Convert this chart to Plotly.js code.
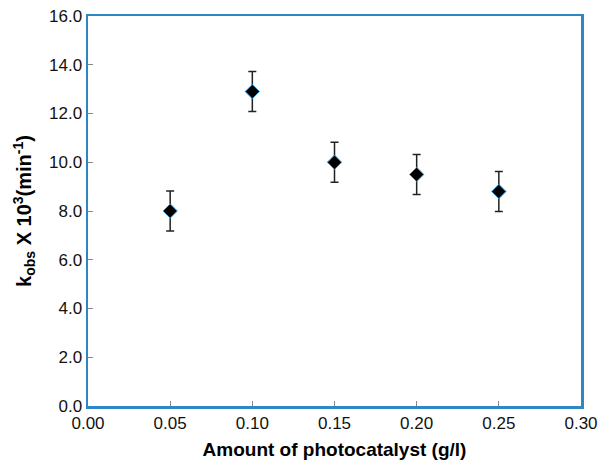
<!DOCTYPE html>
<html>
<head>
<meta charset="utf-8">
<script src="https://cdn.plot.ly/plotly-3.0.1.min.js"></script>
<style>html,body{margin:0;padding:0;background:#fff;}#chart{width:601px;height:460px;}</style>
</head>
<body>
<div id="chart"></div>
<script>
const amounts = [0.05, 0.10, 0.15, 0.20, 0.25];
const kobs = [8.0, 12.9, 10.0, 9.5, 8.8];
const kobsErr = [0.82, 0.82, 0.82, 0.82, 0.82];
const xTicks = [0, 0.05, 0.10, 0.15, 0.20, 0.25, 0.30];
const xTickText = ["0.00", "0.05", "0.10", "0.15", "0.20", "0.25", "0.30"];
const yTicks = [0, 2, 4, 6, 8, 10, 12, 14, 16];
const yTickText = ["0.0", "2.0", "4.0", "6.0", "8.0", "10.0", "12.0", "14.0", "16.0"];

const axisColor = "#2f86c6";
const fam = "Liberation Sans, Arial, sans-serif";
const tickFont = {family: fam, size: 17, color: "#111"};

const trace = {
  x: amounts, y: kobs, type: "scatter", mode: "markers",
  marker: {symbol: "diamond", size: 11, color: "#000", line: {color: "#3a9ad9", width: 1}},
  error_y: {type: "data", array: kobsErr, visible: true, color: "#222", thickness: 1.5, width: 4},
  cliponaxis: false
};

const layout = {
  width: 601, height: 460,
  margin: {l: 88, r: 20, t: 16, b: 54},
  paper_bgcolor: "#fff", plot_bgcolor: "#fff",
  showlegend: false,
  font: {family: fam, size: 17, color: "#000"},
  xaxis: {
    range: [0, 0.30], tickvals: xTicks, ticktext: xTickText,
    showgrid: false, zeroline: false,
    showline: true, linecolor: axisColor, linewidth: 2.5, mirror: true,
    ticks: "inside", ticklen: 5, tickcolor: "#888", tickwidth: 1,
    tickfont: tickFont, automargin: false,
    title: {text: "<b>Amount of photocatalyst (g/l)</b>", font: {family: fam, size: 19, color: "#000"}, standoff: 12}
  },
  yaxis: {
    range: [0, 16], tickvals: yTicks, ticktext: yTickText,
    showgrid: false, zeroline: false,
    showline: true, linecolor: axisColor, linewidth: 2.5, mirror: true,
    ticks: "inside", ticklen: 5, tickcolor: "#888", tickwidth: 1,
    tickfont: tickFont, automargin: false,
    title: {text: "<b>k<sub>obs</sub> X 10<sup>3</sup>(min<sup>-1</sup>)</b>", font: {family: fam, size: 20, color: "#000"}, standoff: 12}
  }
};

Plotly.newPlot("chart", [trace], layout, {displayModeBar: false, staticPlot: true});
</script>
</body>
</html>
